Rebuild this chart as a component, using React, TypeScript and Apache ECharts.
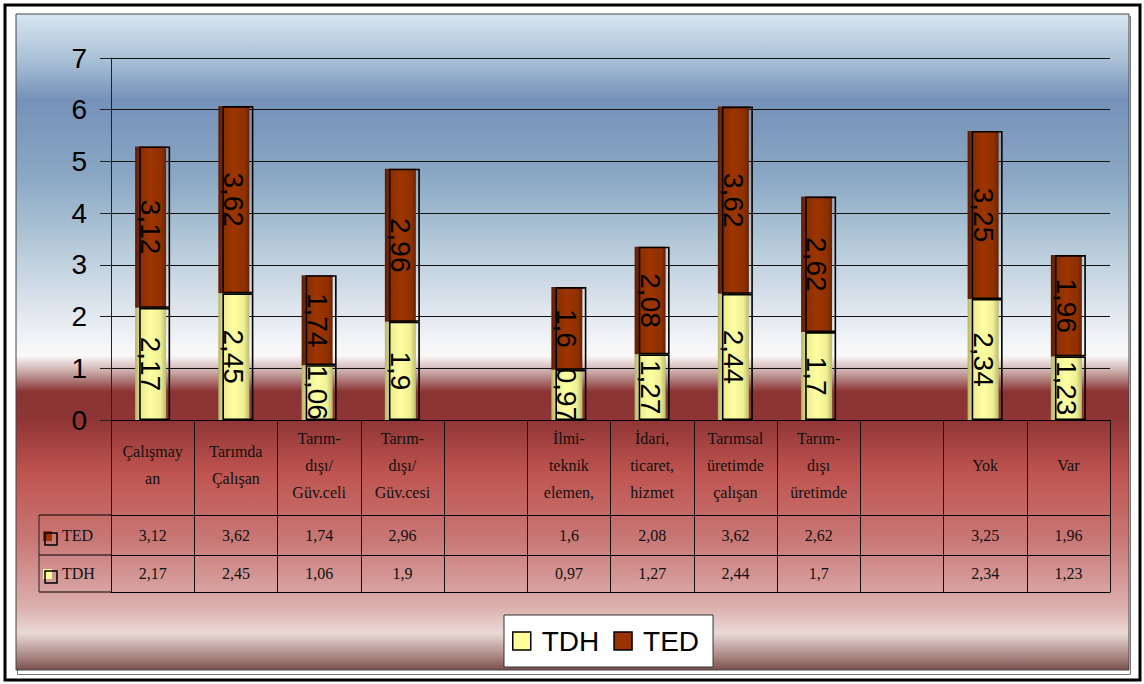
import React, { useEffect, useRef } from 'react';
import * as echarts from 'echarts';

const categories: string[] = [
  'Çalışmay\nan',
  'Tarımda\nÇalışan',
  'Tarım-\ndışı/\nGüv.celi',
  'Tarım-\ndışı/\nGüv.cesi',
  '',
  'İlmi-\nteknik\nelemen,',
  'İdari,\nticaret,\nhizmet',
  'Tarımsal\nüretimde\nçalışan',
  'Tarım-\ndışı\nüretimde',
  ' ',
  'Yok',
  'Var',
];
const tdhValues: (number | null)[] = [2.17, 2.45, 1.06, 1.9, null, 0.97, 1.27, 2.44, 1.7, null, 2.34, 1.23];
const tedValues: (number | null)[] = [3.12, 3.62, 1.74, 2.96, null, 1.6, 2.08, 3.62, 2.62, null, 3.25, 1.96];
const seriesNames = ['TDH', 'TED'];
const yMin = 0;
const yMax = 7;
const yInterval = 1;

const fmt = (v: number | null | undefined) =>
  v === null || v === undefined ? '' : String(v).replace('.', ',');

const SANS = "'Liberation Sans', Arial, sans-serif";
const SERIF = "'Liberation Serif', 'Times New Roman', serif";

const tedFill = new echarts.graphic.LinearGradient(0, 0, 1, 0, [
  { offset: 0, color: '#5a1c00' },
  { offset: 0.18, color: '#8a2e00' },
  { offset: 0.5, color: '#9d3500' },
  { offset: 0.85, color: '#8e3000' },
  { offset: 1, color: '#6a2300' },
]);
const tdhFill = new echarts.graphic.LinearGradient(0, 0, 1, 0, [
  { offset: 0, color: '#b4b466' },
  { offset: 0.2, color: '#ecec92' },
  { offset: 0.5, color: '#ffffa2' },
  { offset: 0.82, color: '#efef94' },
  { offset: 1, color: '#bcbc6c' },
]);

const bgGradient = new echarts.graphic.LinearGradient(0, 0, 0, 1, [
  { offset: 0, color: '#d8e6f1' },
  { offset: 0.07, color: '#a9c0d6' },
  { offset: 0.131, color: '#7591b9' },
  { offset: 0.248, color: '#8aa8c4' },
  { offset: 0.349, color: '#b3c8d8' },
  { offset: 0.451, color: '#dfe6ee' },
  { offset: 0.505, color: '#f4f6f8' },
  { offset: 0.521, color: '#fbf8f8' },
  { offset: 0.546, color: '#c8a8a6' },
  { offset: 0.576, color: '#8a3333' },
  { offset: 0.619, color: '#8f3535' },
  { offset: 0.7, color: '#bf5450' },
  { offset: 0.8, color: '#c87775' },
  { offset: 0.904, color: '#dcb0ae' },
  { offset: 0.944, color: '#e9d9d5' },
  { offset: 0.98, color: '#a88582' },
  { offset: 1, color: '#7a4f4c' },
]);

export default function App() {
  const ref = useRef<HTMLDivElement>(null);

  useEffect(() => {
    if (!ref.current) return;
    const chart = echarts.init(ref.current, undefined, { renderer: 'svg' });

    const catLabelFormatter = (v: string) => (v.trim() === '' ? '' : v);

    const option: any = {
      animation: false,
      backgroundColor: '#ffffff',
      grid: { left: 111, right: 34, top: 58, bottom: 264, containLabel: false },
      legend: {
        data: [
          { name: 'TDH', itemStyle: { color: '#ffff99', borderColor: '#000', borderWidth: 1.5 } },
          { name: 'TED', itemStyle: { color: '#993300', borderColor: '#000', borderWidth: 1.5 } },
        ],
        left: 504,
        top: 615,
        orient: 'horizontal',
        icon: 'rect',
        itemWidth: 18,
        itemHeight: 18,
        itemGap: 14,
        padding: [12, 14, 12, 8],
        backgroundColor: '#ffffff',
        borderColor: '#333',
        borderWidth: 1,
        textStyle: { fontFamily: SANS, fontSize: 28, color: '#000', padding: [0, 0, 0, 6] },
      },
      xAxis: [
        {
          type: 'category',
          data: categories,
          position: 'bottom',
          axisLine: { show: true, lineStyle: { color: '#000', width: 1 } },
          axisTick: { show: true, interval: 0, length: 172, lineStyle: { color: '#111', width: 1 } },
          axisLabel: {
            interval: 0,
            formatter: catLabelFormatter,
            fontFamily: SERIF,
            fontSize: 16,
            lineHeight: 27,
            color: '#111',
            margin: 45,
            verticalAlign: 'middle',
          },
          splitLine: { show: false },
        },
        {
          type: 'category',
          data: categories,
          position: 'bottom',
          offset: 95,
          axisLine: { show: true, lineStyle: { color: '#000', width: 1 } },
          axisTick: { show: false },
          axisLabel: {
            interval: 0,
            formatter: (_v: string, i: number) => fmt(tedValues[i]),
            fontFamily: SERIF,
            fontSize: 16,
            color: '#111',
            margin: 20,
            verticalAlign: 'middle',
          },
        },
        {
          type: 'category',
          data: categories,
          position: 'bottom',
          offset: 135,
          axisLine: { show: true, lineStyle: { color: '#000', width: 1 } },
          axisTick: { show: false },
          axisLabel: {
            interval: 0,
            formatter: (_v: string, i: number) => fmt(tdhValues[i]),
            fontFamily: SERIF,
            fontSize: 16,
            color: '#111',
            margin: 18,
            verticalAlign: 'middle',
          },
        },
        {
          type: 'category',
          data: categories,
          position: 'bottom',
          offset: 172,
          axisLine: { show: true, lineStyle: { color: '#000', width: 1 } },
          axisTick: { show: false },
          axisLabel: { show: false },
        },
      ],
      yAxis: {
        type: 'value',
        min: yMin,
        max: yMax,
        interval: yInterval,
        axisLine: { show: true, lineStyle: { color: '#222', width: 1 } },
        axisTick: { show: true, inside: false, length: 11, lineStyle: { color: '#222' } },
        axisLabel: { fontFamily: SANS, fontSize: 28, color: '#000', margin: 24 },
        splitLine: { show: true, lineStyle: { color: '#111', width: 1 } },
      },
      series: [
        {
          name: seriesNames[0],
          type: 'bar',
          stack: 'fill',
          data: tdhValues,
          barWidth: 31,
          barGap: '-87%',
          itemStyle: { color: tdhFill },
          label: {
            show: true,
            position: 'inside',
            rotate: -90,
            fontFamily: SANS,
            fontSize: 28,
            color: '#000',
            formatter: (p: any) => fmt(p.value),
          },
          z: 2,
        },
        {
          name: seriesNames[1],
          type: 'bar',
          stack: 'fill',
          data: tedValues,
          barWidth: 31,
          itemStyle: { color: tedFill },
          label: {
            show: true,
            position: 'inside',
            rotate: -90,
            fontFamily: SANS,
            fontSize: 28,
            color: '#000',
            formatter: (p: any) => fmt(p.value),
          },
          z: 2,
        },
        {
          name: 'TDH-outline',
          type: 'bar',
          stack: 'outline',
          data: tdhValues,
          barWidth: 31,
          itemStyle: { color: 'rgba(0,0,0,0)', borderColor: '#000', borderWidth: 1.6 },
          silent: true,
          z: 3,
        },
        {
          name: 'TED-outline',
          type: 'bar',
          stack: 'outline',
          data: tedValues,
          barWidth: 31,
          itemStyle: { color: 'rgba(0,0,0,0)', borderColor: '#000', borderWidth: 1.6 },
          silent: true,
          z: 3,
        },
      ],
      graphic: [
        {
          type: 'rect',
          z: -100,
          silent: true,
          shape: { x: 5, y: 5, width: 1135, height: 675 },
          style: { fill: '#ffffff', stroke: '#000', lineWidth: 3 },
        },
        {
          type: 'rect',
          z: -99,
          silent: true,
          shape: { x: 17.5, y: 16.5, width: 1113, height: 658 },
          style: { fill: 'none', stroke: '#777', lineWidth: 1 },
        },
        {
          type: 'rect',
          z: -98,
          silent: true,
          shape: { x: 16, y: 14, width: 1113, height: 656 },
          style: { fill: bgGradient, stroke: '#444', lineWidth: 1 },
        },
        // left legend-key column of the data table
        { type: 'line', z: 10, silent: true, shape: { x1: 39, y1: 515, x2: 111, y2: 515 }, style: { stroke: '#000', lineWidth: 1 } },
        { type: 'line', z: 10, silent: true, shape: { x1: 39, y1: 555, x2: 111, y2: 555 }, style: { stroke: '#000', lineWidth: 1 } },
        { type: 'line', z: 10, silent: true, shape: { x1: 39, y1: 592, x2: 111, y2: 592 }, style: { stroke: '#000', lineWidth: 1 } },
        { type: 'line', z: 10, silent: true, shape: { x1: 39, y1: 515, x2: 39, y2: 592 }, style: { stroke: '#222', lineWidth: 1 } },
        { type: 'rect', z: 10, silent: true, shape: { x: 43, y: 531, width: 9, height: 10 }, style: { fill: '#993300' } },
        { type: 'rect', z: 11, silent: true, shape: { x: 45, y: 533, width: 12, height: 12 }, style: { fill: 'none', stroke: '#000', lineWidth: 1.5 } },
        { type: 'text', z: 11, silent: true, x: 62, y: 535, style: { text: 'TED', fontFamily: SERIF, fontSize: 16, fill: '#111', verticalAlign: 'middle' } },
        { type: 'rect', z: 10, silent: true, shape: { x: 43, y: 569, width: 9, height: 10 }, style: { fill: '#ffff99' } },
        { type: 'rect', z: 11, silent: true, shape: { x: 45, y: 571, width: 12, height: 12 }, style: { fill: 'none', stroke: '#000', lineWidth: 1.5 } },
        { type: 'text', z: 11, silent: true, x: 62, y: 573, style: { text: 'TDH', fontFamily: SERIF, fontSize: 16, fill: '#111', verticalAlign: 'middle' } },
      ],
    };

    chart.setOption(option);
    return () => {
      chart.dispose();
    };
  }, []);

  return (
    <div
      ref={ref}
      style={{ position: 'fixed', left: 0, top: 0, width: 1144, height: 684 }}
    />
  );
}
